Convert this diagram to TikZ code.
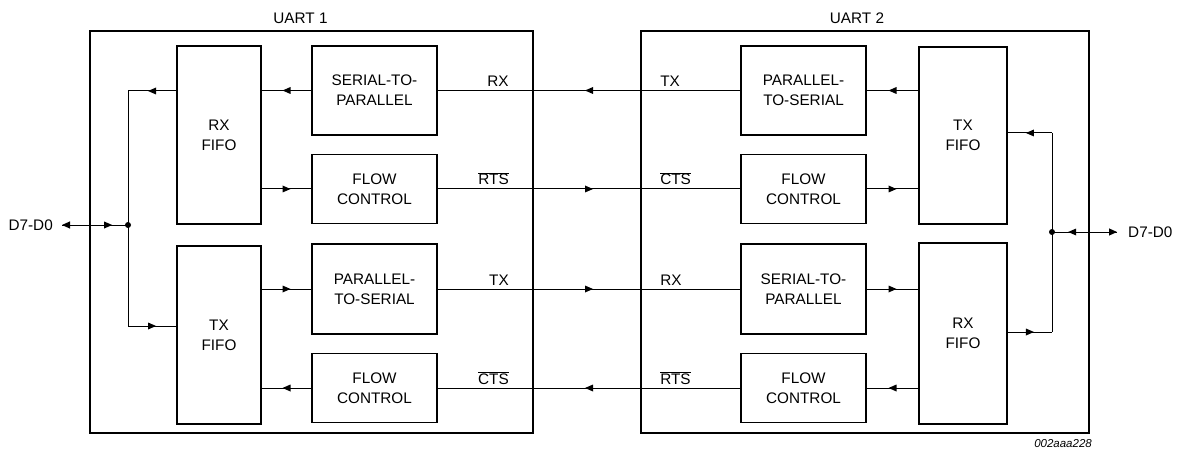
\documentclass[tikz,border=0pt]{standalone}
\usepackage{fontspec}
\setmainfont{Liberation Sans}
\usetikzlibrary{arrows.meta,decorations.markings}
\begin{document}
\begin{tikzpicture}[x=1pt,y=-1pt,
  font=\fontsize{15.3}{20}\selectfont,
  outer/.style={draw, line width=1.8pt, inner sep=0pt},
  blk/.style={draw, line width=1.8pt, inner sep=0pt, align=center, minimum width=125pt},
  fifo/.style={draw, line width=1.8pt, inner sep=0pt, align=center},
  conn/.style={line width=1pt},
  midarrow/.style={postaction={decorate}, decoration={markings,
     mark=at position #1 with {\fill (4pt,0) -- (-4pt,3.5pt) -- (-4pt,-3.5pt) -- cycle;}}},
  midarrow/.default=0.5,
  endarrow/.style={-{Triangle[length=8pt,width=7pt]}},
  lbl/.style={inner sep=0pt}
]
\useasboundingbox (0,0) rectangle (1177,449);

% UART outlines
\node[outer, minimum width=443pt, minimum height=402pt] (u1) at (311.5,232) {};
\node[outer, minimum width=448pt, minimum height=402pt] (u2) at (865,232) {};
\node[lbl, anchor=base] (u1l) at ([xshift=-11pt,yshift=7pt]u1.north) {UART 1};
\node[lbl, anchor=base] (u2l) at ([xshift=-8pt,yshift=7pt]u2.north) {UART 2};

% UART 1 blocks
\node[fifo, minimum width=84pt, minimum height=178pt] (lrxf) at (219,135) {RX\\FIFO};
\node[fifo, minimum width=84pt, minimum height=178pt] (ltxf) at (219,335) {TX\\FIFO};
\node[blk, minimum height=89pt] (s2p) at (374.5,90.5) {SERIAL-TO-\\PARALLEL};
\node[blk, minimum height=69pt] (lfc1) at (374.5,189) {FLOW\\CONTROL};
\node[blk, minimum height=90pt] (lp2s) at (374.5,289) {PARALLEL-\\TO-SERIAL};
\node[blk, minimum height=69pt] (lfc2) at (374.5,388) {FLOW\\CONTROL};

% UART 2 blocks
\node[blk, minimum height=89pt] (rp2s) at (803.5,90.5) {PARALLEL-\\TO-SERIAL};
\node[blk, minimum height=69pt] (rfc1) at (803.5,189) {FLOW\\CONTROL};
\node[blk, minimum height=90pt] (rs2p) at (803.5,289) {SERIAL-TO-\\PARALLEL};
\node[blk, minimum height=69pt] (rfc2) at (803.5,388) {FLOW\\CONTROL};
\node[fifo, minimum width=88pt, minimum height=177pt] (rtxf) at (963,135.5) {TX\\FIFO};
\node[fifo, minimum width=88pt, minimum height=181pt] (rrxf) at (963,333.5) {RX\\FIFO};

% UART 1 internal connectors
\draw[conn, midarrow] (s2p.west) -- (lrxf.east |- s2p.west);
\draw[conn, midarrow] (lrxf.east |- lfc1.west) -- (lfc1.west);
\draw[conn, midarrow] (ltxf.east |- lp2s.west) -- (lp2s.west);
\draw[conn, midarrow] (lfc2.west) -- (ltxf.east |- lfc2.west);

% cross connectors
\draw[conn, midarrow] (rp2s.west) -- (s2p.east |- rp2s.west);
\draw[conn, midarrow] (lfc1.east) -- (rfc1.west |- lfc1.east);
\draw[conn, midarrow] (lp2s.east) -- (rs2p.west |- lp2s.east);
\draw[conn, midarrow] (rfc2.west) -- (lfc2.east |- rfc2.west);

% UART 2 internal connectors
\draw[conn, midarrow] (rtxf.west |- rp2s.east) -- (rp2s.east);
\draw[conn, midarrow] (rfc1.east) -- (rtxf.west |- rfc1.east);
\draw[conn, midarrow] (rs2p.east) -- (rrxf.west |- rs2p.east);
\draw[conn, midarrow] (rrxf.west |- rfc2.east) -- (rfc2.east);

% signal labels
\node[lbl, anchor=base east] (t1) at ([xshift=71pt,yshift=4pt]s2p.east) {RX};
\node[lbl, anchor=base east] (t2) at ([xshift=71pt,yshift=4pt]lfc1.east) {$\overline{\mbox{RTS}}$};
\node[lbl, anchor=base east] (t3) at ([xshift=71pt,yshift=4pt]lp2s.east) {TX};
\node[lbl, anchor=base east] (t4) at ([xshift=71pt,yshift=4pt]lfc2.east) {$\overline{\mbox{CTS}}$};
\node[lbl, anchor=base west] (t5) at ([xshift=-80pt,yshift=4pt]rp2s.west) {TX};
\node[lbl, anchor=base west] (t6) at ([xshift=-80pt,yshift=4pt]rfc1.west) {$\overline{\mbox{CTS}}$};
\node[lbl, anchor=base west] (t7) at ([xshift=-80pt,yshift=4pt]rs2p.west) {RX};
\node[lbl, anchor=base west] (t8) at ([xshift=-80pt,yshift=4pt]rfc2.west) {$\overline{\mbox{RTS}}$};

% left data bus
\coordinate (lj) at (128,225);
\coordinate (lbt) at (128,91);
\coordinate (lbb) at (128,326);
\coordinate (ldt) at (62,225);
\draw[conn] (lbt) -- (lbb);
\draw[conn, midarrow] (lrxf.west |- lbt) -- (lbt);
\draw[conn, midarrow] (lbb) -- (ltxf.west |- lbb);
\draw[conn, endarrow] (lj) -- (ldt);
\draw[conn, midarrow=0.7] (ldt) -- (lj);
\fill (lj) circle (3pt);
\node[lbl, anchor=east] (ld) at ([xshift=-9pt]ldt) {D7-D0};

% right data bus
\coordinate (rj) at (1052,232);
\coordinate (rbt) at (1052,133);
\coordinate (rbb) at (1052,332);
\coordinate (rdt) at (1117,232);
\draw[conn] (rbt) -- (rbb);
\draw[conn, midarrow] (rbt) -- (rtxf.east |- rbt);
\draw[conn, midarrow] (rrxf.east |- rbb) -- (rbb);
\draw[conn, endarrow] (rj) -- (rdt);
\draw[conn, midarrow=0.69] (rdt) -- (rj);
\fill (rj) circle (3pt);
\node[lbl, anchor=west] (rd) at ([xshift=11pt]rdt) {D7-D0};

% figure code
\node[lbl, anchor=base east, font=\fontsize{11.5}{13}\selectfont\itshape] (cap) at (1092,447) {002aaa228};
\end{tikzpicture}
\end{document}
